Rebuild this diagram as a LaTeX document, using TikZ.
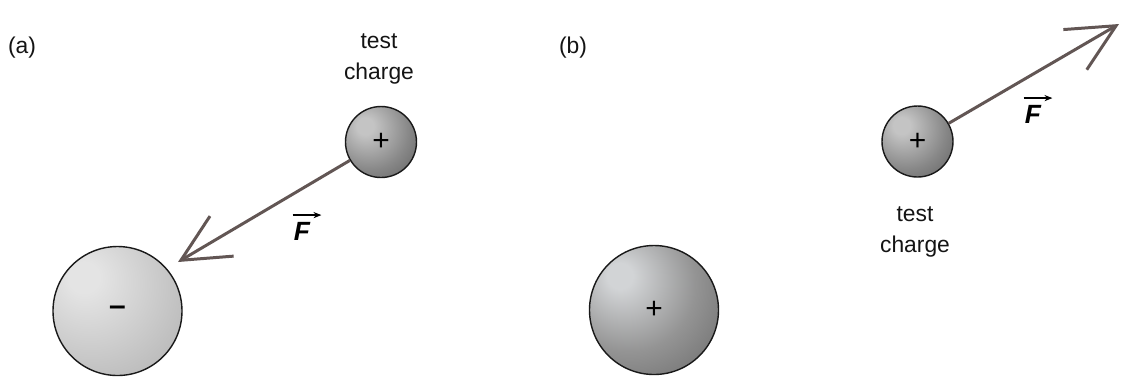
\documentclass[tikz,border=0pt]{standalone}
\usepackage{fontspec}
\setmainfont{Liberation Sans}
\usetikzlibrary{arrows.meta}

\definecolor{forcecol}{RGB}{98,86,84}
\definecolor{tlight}{RGB}{196,196,196}
\definecolor{tmid}{RGB}{135,135,135}
\definecolor{tdark}{RGB}{70,70,70}
\definecolor{plight}{RGB}{210,212,214}
\definecolor{pmid}{RGB}{148,148,148}
\definecolor{pdark}{RGB}{80,80,80}
\definecolor{nlight}{RGB}{228,228,228}
\definecolor{nmid}{RGB}{192,192,192}
\definecolor{ndark}{RGB}{158,158,158}

\pgfdeclareradialshading{testball}{\pgfpoint{-12bp}{12bp}}{color(0bp)=(tlight); color(6bp)=(tlight); color(28bp)=(tmid); color(56bp)=(tdark); color(90bp)=(tdark)}
\pgfdeclareradialshading{posball}{\pgfpoint{-14bp}{14bp}}{color(0bp)=(plight); color(5bp)=(plight); color(26bp)=(pmid); color(58bp)=(pdark); color(90bp)=(pdark)}
\pgfdeclareradialshading{negball}{\pgfpoint{-14bp}{14bp}}{color(0bp)=(nlight); color(6bp)=(nlight); color(34bp)=(nmid); color(62bp)=(ndark); color(90bp)=(ndark)}

\begin{document}
\begin{tikzpicture}[
  lbl/.style={font=\fontsize{13}{17.5}\selectfont, text=black!92, align=center, inner sep=0pt},
  flbl/.style={font=\fontsize{15}{18}\selectfont\bfseries\itshape, text=black, inner sep=0pt},
  charge/.style={circle, draw=black!90, line width=0.8pt, inner sep=0pt, font=\fontsize{17}{20}\selectfont},
  force/.style={draw=forcecol, line width=1.7pt, -{Straight Barb[length=0.95cm,width=0.93cm]}},
  vecarrow/.style={line width=0.7pt, -{Stealth[length=4.5pt,width=3.5pt]}}
]
\useasboundingbox (0,0) rectangle (22.42,-7.52);
\node[lbl] (tagA) at (0.44,-0.96) {(a)};
\node[lbl] (tagB) at (11.46,-0.96) {(b)};
\node[charge,shading=negball,minimum size=2.58cm] (bigA) at (2.35,-6.22) {\textbf{--}};
\node[charge,shading=testball,minimum size=1.42cm] (testA) at (7.62,-2.84) {+};
\node[lbl] (nameA) at (7.58,-1.18) {test\\charge};
\coordinate (tipA) at (3.56,-5.24);
\draw[force] (testA) -- (tipA);
\node[flbl] (forceA) at (6.04,-4.62) {F};
\draw[vecarrow] ([shift={(-0.02,0.13)}]forceA.north west) -- ([shift={(0.22,0.13)}]forceA.north east);
\node[charge,shading=posball,minimum size=2.58cm] (bigB) at (13.08,-6.2) {+};
\node[charge,shading=testball,minimum size=1.42cm] (testB) at (18.35,-2.83) {+};
\node[lbl] (nameB) at (18.3,-4.64) {test\\charge};
\coordinate (tipB) at (22.38,-0.48);
\draw[force] (testB) -- (tipB);
\node[flbl] (forceB) at (20.66,-2.28) {F};
\draw[vecarrow] ([shift={(-0.02,0.13)}]forceB.north west) -- ([shift={(0.22,0.13)}]forceB.north east);
\end{tikzpicture}
\end{document}
